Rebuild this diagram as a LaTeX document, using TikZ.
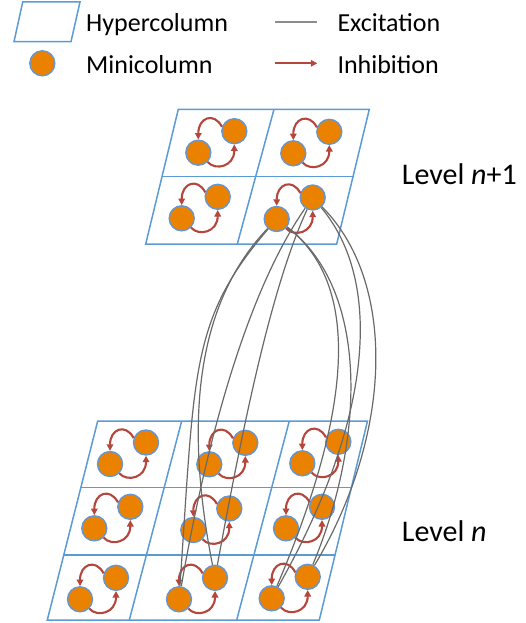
\documentclass[tikz,border=0pt]{standalone}
\usepackage{fontspec}
\setmainfont{Carlito}
\usetikzlibrary{arrows.meta}
\definecolor{gridblue}{RGB}{91,155,213}
\definecolor{mcorange}{RGB}{234,130,0}
\definecolor{mcedge}{RGB}{100,150,210}
\definecolor{inhred}{RGB}{180,70,60}
\definecolor{excgray}{RGB}{105,105,105}
\definecolor{leggray}{RGB}{140,140,140}
\newcommand\mcell[3]{%
  \node[mini] (#1l) at (#2,#3) {};
  \node[mini] (#1u) at ({#2+36},{#3-21.5}) {};
  \draw[inh] (#1u.160) .. controls +(-8,-15) and +(0,-22) .. (#1l.north);
  \draw[inh] (#1l.-45) .. controls +(8,9) and +(0,22) .. (#1u.south);
}
\begin{document}
\begin{tikzpicture}[x=1pt,y=-1pt,
  hyper/.style={draw=gridblue,line width=1.5pt,line join=miter},
  mini/.style={circle,fill=mcorange,draw=mcedge,line width=1.4pt,minimum size=25pt,inner sep=0pt},
  inh/.style={draw=inhred,line width=2.1pt,-{Triangle[length=6.5pt,width=6.5pt]}},
  exc/.style={draw=excgray,line width=1.2pt},
  lbl/.style={anchor=base west,inner sep=0pt,font=\fontsize{26}{31}\selectfont},
  lvl/.style={anchor=base west,inner sep=0pt,font=\fontsize{30}{36}\selectfont}]
\useasboundingbox (0,0) rectangle (525,623);
% legend
\draw[hyper] (22.7,2) -- (80,2) -- (71,41.7) -- (14,41.7) -- cycle;
\node[mini] (legmc) at (42.3,63.3) {};
\node[lbl] (t1) at (86,31.7) {Hypercolumn};
\node[lbl] (t2) at (86,74) {Minicolumn};
\coordinate (e1) at (275,22.3); \coordinate (e2) at (317.3,22.3);
\draw[draw=leggray,line width=1.8pt] (e1) -- (e2);
\coordinate (i1) at (275,63.3); \coordinate (i2) at (317.3,63.3);
\draw[inh] (i1) -- (i2);
\node[lbl] (t3) at (337.3,31.7) {Excitation};
\node[lbl] (t4) at (337.3,74) {Inhibition};
% levels
\node[lvl] (lv1) at (401.7,184) {Level \textit{n}+1};
\node[lvl] (lv0) at (401.7,541.7) {Level \textit{n}};
% top grid
\draw[hyper] (178.3,109.3) -- (369.3,109.3) -- (336.7,244) -- (145.7,244) -- cycle;
\draw[hyper] (162.3,176.7) -- (352.7,176.7);
\draw[hyper] (274,109.3) -- (237.3,244);
% bottom grid
\draw[hyper] (97.7,421) -- (367.5,421) -- (319.3,620) -- (47.3,620) -- cycle;
\draw[hyper] (80.9,487.3) -- (351.4,487.3);
\draw[hyper] (63.8,555) -- (335.0,555);
\draw[hyper] (181.7,421) -- (129.3,620);
\draw[hyper] (289.3,421) -- (236.7,620);
% minicolumns
\mcell{ta}{198.3}{152.7}
\mcell{tb}{293.3}{153.3}
\mcell{tc}{181.7}{218.3}
\mcell{td}{276.7}{219}
\mcell{b11}{110}{464}
\mcell{b12}{209.3}{464.3}
\mcell{b13}{302.3}{463.3}
\mcell{b21}{94.3}{528.3}
\mcell{b22}{193.3}{530}
\mcell{b23}{286}{528.3}
\mcell{b31}{80}{599.3}
\mcell{b32}{179}{599.3}
\mcell{b33}{271.7}{598.3}
% excitation
\draw[exc] (tdl) .. controls (190,320) and (195,370) .. (b32l);
\draw[exc] (tdl) .. controls (185,315) and (190,450) .. (b32u);
\draw[exc] (tdu) .. controls (255,280) and (212,410) .. (b32l);
\draw[exc] (tdu) .. controls (272,285) and (244,420) .. (b32u);
\draw[exc] (tdl) .. controls (362,285) and (352,410) .. (b33l);
\draw[exc] (tdl) .. controls (370,290) and (365,440) .. (b33u);
\draw[exc] (tdu) .. controls (382,280) and (375,415) .. (b33l);
\draw[exc] (tdu) .. controls (395,280) and (395,430) .. (b33u);
\end{tikzpicture}
\end{document}
